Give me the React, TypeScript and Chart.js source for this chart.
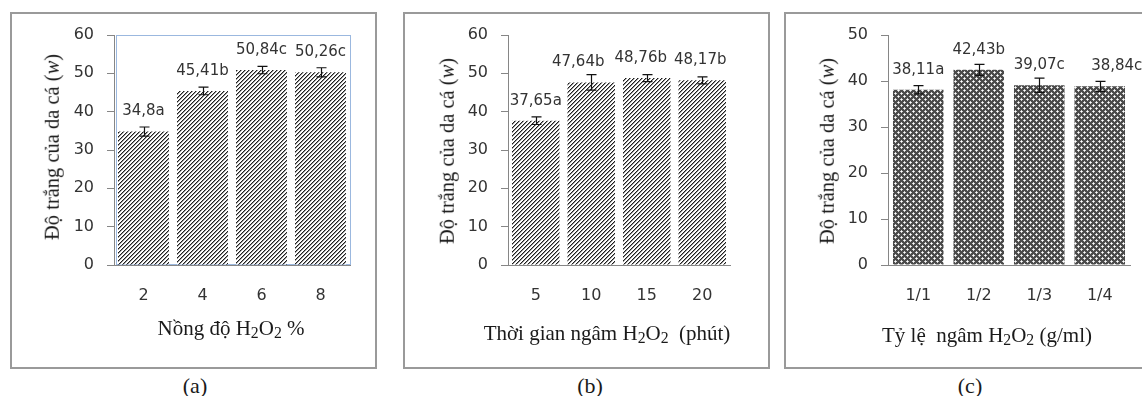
import React, { useEffect, useRef } from "react";
import { Chart, registerables } from "chart.js";

Chart.register(...registerables);

// ---------- data ----------
const catsA = ["2", "4", "6", "8"];
const valsA = [34.8, 45.41, 50.84, 50.26];
const errA = [1.2, 1.0, 0.95, 1.2];
const lblA = ["34,8a", "45,41b", "50,84c", "50,26c"];

const catsB = ["5", "10", "15", "20"];
const valsB = [37.65, 47.64, 48.76, 48.17];
const errB = [1.0, 2.0, 0.9, 0.9];
const lblB = ["37,65a", "47,64b", "48,76b", "48,17b"];

const catsC = ["1/1", "1/2", "1/3", "1/4"];
const valsC = [38.11, 42.43, 39.07, 38.84];
const errC = [0.9, 1.2, 1.55, 1.1];
const lblC = ["38,11a", "42,43b", "39,07c", "38,84c"];

const yMaxA = 60;
const yMaxB = 60;
const yMaxC = 50;
const yStep = 10;

// ---------- layout / style ----------
const FRAME_TOP = 12;
const FRAME_W = 367;
const FRAME_H = 357;
const AREA_TOP = 35;
const AREA_BOTTOM = 265;
const Y_W = 50;
const X_H = 40;
const AXIS = "#868686";
const TICK = "#333333";
const SANS = "'DejaVu Sans', Verdana, sans-serif";
const SERIF = "'Liberation Serif', 'Times New Roman', serif";
// horizontal nudges of the value labels (pixels), as placed in the original figure
const labelShiftA = [0, 0, 0, 0];
const labelShiftB = [0, -13, -6, -2];
const labelShiftC = [0, 0, 0, 17];

function makeHatch(): CanvasPattern | string {
  const c = document.createElement("canvas");
  c.width = 8;
  c.height = 8;
  const g = c.getContext("2d");
  if (!g) return "#555";
  const img = g.createImageData(8, 8);
  for (let y = 0; y < 8; y++) {
    for (let x = 0; x < 8; x++) {
      const k = (x + y) % 4;
      const v = k === 0 ? 30 : k === 1 ? 150 : 255;
      const i = (y * 8 + x) * 4;
      img.data[i] = v;
      img.data[i + 1] = v;
      img.data[i + 2] = v;
      img.data[i + 3] = 255;
    }
  }
  g.putImageData(img, 0, 0);
  return g.createPattern(c, "repeat") || "#555";
}

function makeDiamond(): CanvasPattern | string {
  const n = 6;
  const c = document.createElement("canvas");
  c.width = n;
  c.height = n;
  const g = c.getContext("2d");
  if (!g) return "#666";
  const img = g.createImageData(n, n);
  const pts = [
    [0, 0], [3, 3], [6, 0], [0, 6], [6, 6],
  ];
  for (let y = 0; y < n; y++) {
    for (let x = 0; x < n; x++) {
      let d = 99;
      for (const [px, py] of pts) d = Math.min(d, Math.abs(px - x) + Math.abs(py - y));
      const v = d === 0 ? 255 : d === 1 ? 210 : 75;
      const i = (y * n + x) * 4;
      img.data[i] = v;
      img.data[i + 1] = v;
      img.data[i + 2] = v;
      img.data[i + 3] = 255;
    }
  }
  g.putImageData(img, 0, 0);
  return g.createPattern(c, "repeat") || "#666";
}

type ChartProps = {
  cats: string[];
  vals: number[];
  errs: number[];
  labels: string[];
  shifts: number[];
  yMax: number;
  kind: "hatch" | "diamond";
  blueFrame: boolean;
  frameLeft: number;
  areaL: number;
  areaR: number;
  barPct: number;
};

function BarChart(p: ChartProps) {
  const ref = useRef<HTMLCanvasElement>(null);
  useEffect(() => {
    const canvas = ref.current;
    if (!canvas) return;
    const l = p.areaL - p.frameLeft;
    const r = p.areaR - p.frameLeft;
    const t = AREA_TOP - FRAME_TOP;
    const b = AREA_BOTTOM - FRAME_TOP;
    const fill = p.kind === "hatch" ? makeHatch() : makeDiamond();

    const overlay = {
      id: "overlay",
      beforeDatasetsDraw(chart: any) {
        if (!p.blueFrame) return;
        const { ctx, chartArea } = chart;
        ctx.save();
        ctx.strokeStyle = "#9bb8df";
        ctx.lineWidth = 1;
        ctx.strokeRect(
          Math.round(chartArea.left) + 2.5,
          Math.round(chartArea.top) + 0.5,
          Math.round(chartArea.right - chartArea.left) - 2,
          Math.round(chartArea.bottom - chartArea.top) - 1
        );
        ctx.restore();
      },
      afterDatasetsDraw(chart: any) {
        const { ctx } = chart;
        const ys = chart.scales.y;
        const meta = chart.getDatasetMeta(0);
        ctx.save();
        meta.data.forEach((bar: any, i: number) => {
          const x = Math.round(bar.x) + 0.5;
          const v = p.vals[i];
          const e = p.errs[i];
          const yt = ys.getPixelForValue(v + e);
          const yb = ys.getPixelForValue(v - e);
          ctx.strokeStyle = "#111";
          ctx.lineWidth = 1.2;
          ctx.beginPath();
          ctx.moveTo(x, yt);
          ctx.lineTo(x, yb);
          ctx.moveTo(x - 5, yt);
          ctx.lineTo(x + 5, yt);
          ctx.moveTo(x - 5, yb);
          ctx.lineTo(x + 5, yb);
          ctx.stroke();
          ctx.fillStyle = TICK;
          ctx.font = `15px ${SANS}`;
          ctx.textAlign = "center";
          ctx.textBaseline = "middle";
          ctx.fillText(p.labels[i], bar.x + (p.shifts[i] || 0), ys.getPixelForValue(v) - 20);
        });
        ctx.restore();
      },
    };

    const chart = new Chart(canvas, {
      type: "bar",
      data: {
        labels: p.cats,
        datasets: [
          {
            data: p.vals,
            backgroundColor: fill as any,
            borderWidth: 0,
            barPercentage: p.barPct,
            categoryPercentage: 1,
          },
        ],
      },
      options: {
        responsive: false,
        animation: false,
        events: [],
        layout: {
          padding: {
            left: l - Y_W,
            right: FRAME_W - r,
            top: t,
            bottom: FRAME_H - b - X_H,
          },
        },
        plugins: {
          legend: { display: false },
          tooltip: { enabled: false },
        },
        scales: {
          x: {
            afterFit: (s: any) => {
              s.height = X_H;
            },
            grid: { display: false },
            border: { color: AXIS, width: 1 },
            ticks: {
              padding: 13,
              color: TICK,
              font: { family: SANS, size: 16 },
              maxRotation: 0,
            },
          },
          y: {
            min: 0,
            max: p.yMax,
            afterFit: (s: any) => {
              s.width = Y_W;
            },
            grid: {
              drawOnChartArea: false,
              drawTicks: true,
              tickLength: 7,
              color: AXIS,
            },
            border: { color: AXIS, width: 1 },
            ticks: {
              stepSize: yStep,
              padding: 13,
              color: TICK,
              font: { family: SANS, size: 16 },
            },
          },
        },
      },
      plugins: [overlay],
    });
    return () => chart.destroy();
  }, []);
  return (
    <canvas
      ref={ref}
      width={FRAME_W}
      height={FRAME_H}
      style={{
        position: "absolute",
        left: p.frameLeft,
        top: FRAME_TOP,
        width: FRAME_W,
        height: FRAME_H,
      }}
    />
  );
}

const textBase: React.CSSProperties = {
  position: "absolute",
  fontFamily: SERIF,
  color: "#1a1a1a",
  whiteSpace: "pre",
  lineHeight: 1,
};

function Centered(props: { x: number; y: number; rotate?: boolean; size: number; children: React.ReactNode }) {
  return (
    <div
      style={{
        ...textBase,
        fontSize: props.size,
        left: props.x,
        top: props.y,
        transform: `translate(-50%, -50%)${props.rotate ? " rotate(-90deg)" : ""}`,
      }}
    >
      {props.children}
    </div>
  );
}

const sub: React.CSSProperties = { fontSize: "0.75em", verticalAlign: "-0.22em", lineHeight: 0 };

function YTitle() {
  return (
    <>
      Độ trắng của da cá (<i>w</i>)
    </>
  );
}

function H2O2() {
  return (
    <>
      H<span style={sub}>2</span>O<span style={sub}>2</span>
    </>
  );
}

export default function App() {
  const frames = [
    { l: 10, w: FRAME_W },
    { l: 403, w: FRAME_W },
    { l: 784, w: 380 },
  ];
  return (
    <div
      style={{
        position: "absolute",
        left: 0,
        top: 0,
        width: 1142,
        height: 396,
        overflow: "hidden",
        background: "#fff",
      }}
    >
      {frames.map((f) => (
        <div
          key={f.l}
          style={{
            position: "absolute",
            left: f.l,
            top: FRAME_TOP,
            width: f.w,
            height: FRAME_H,
            boxSizing: "border-box",
            border: "2px solid #9a9a9a",
          }}
        />
      ))}
      <BarChart
        cats={catsA}
        vals={valsA}
        errs={errA}
        labels={lblA}
        shifts={labelShiftA}
        yMax={yMaxA}
        kind="hatch"
        blueFrame={true}
        frameLeft={10}
        areaL={114}
        areaR={350}
        barPct={0.864}
      />
      <BarChart
        cats={catsB}
        vals={valsB}
        errs={errB}
        labels={lblB}
        shifts={labelShiftB}
        yMax={yMaxB}
        kind="hatch"
        blueFrame={false}
        frameLeft={403}
        areaL={508}
        areaR={730}
        barPct={0.856}
      />
      <BarChart
        cats={catsC}
        vals={valsC}
        errs={errC}
        labels={lblC}
        shifts={labelShiftC}
        yMax={yMaxC}
        kind="diamond"
        blueFrame={false}
        frameLeft={784}
        areaL={888}
        areaR={1130}
        barPct={0.835}
      />

      <Centered x={52} y={147} rotate size={20.5}>
        <YTitle />
      </Centered>
      <Centered x={447} y={151} rotate size={20.5}>
        <YTitle />
      </Centered>
      <Centered x={827} y={151} rotate size={20.5}>
        <YTitle />
      </Centered>

      <Centered x={231} y={328} size={21}>
        Nồng độ <H2O2 /> %
      </Centered>
      <Centered x={607} y={333} size={21}>
        Thời gian ngâm <H2O2 />  (phút)
      </Centered>
      <Centered x={987} y={335} size={21}>
        Tỷ lệ  ngâm <H2O2 /> (g/ml)
      </Centered>

      <Centered x={195} y={386} size={22}>
        (a)
      </Centered>
      <Centered x={590} y={386} size={22}>
        (b)
      </Centered>
      <Centered x={970} y={386} size={22}>
        (c)
      </Centered>
    </div>
  );
}
